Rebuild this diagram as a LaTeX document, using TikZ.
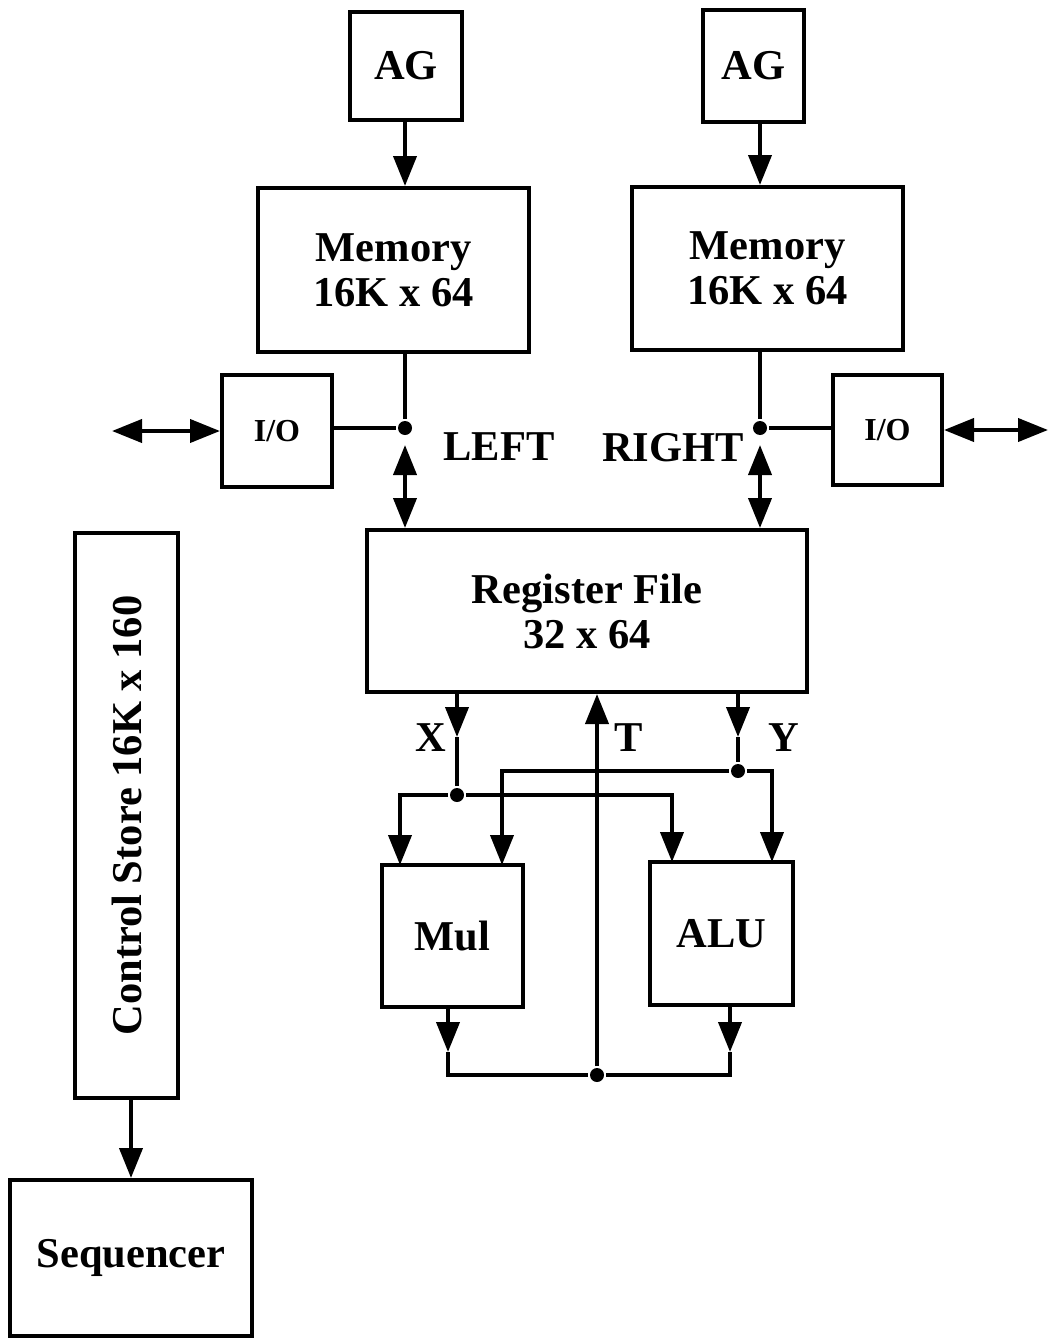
\documentclass[tikz,border=0pt]{standalone}
\usepackage{fontspec}
\setmainfont{Liberation Serif}
\usetikzlibrary{arrows.meta}

\begin{document}
\begin{tikzpicture}[
  x=0.5pt,y=-0.5pt,
  font=\bfseries\fontsize{21.25}{22.5}\selectfont,
  >={Triangle[length=15pt,width=11.5pt]},
  line width=2pt,
  every node/.style={align=center},
  box/.style={draw,line width=2pt,inner sep=0pt},
  small/.style={font=\bfseries\fontsize{16}{18}\selectfont},
  dot/.style={circle,fill,inner sep=0pt,minimum size=7pt},
  lbl/.style={inner sep=0pt},
]
\useasboundingbox (0,0) rectangle (1051,1338);

% --- address generators and memories
\node[box,minimum width=56pt,minimum height=54pt] (ag1) at (406,66) {AG};
\node[box,minimum width=50.5pt,minimum height=56pt] (ag2) at (753.5,66) {AG};
\node[box,minimum width=135.5pt,minimum height=82pt] (mem1) at (393.5,270)
     {Memory\\16K x 64};
\node[box,minimum width=135.5pt,minimum height=81.5pt] (mem2) at (767.5,268.5)
     {Memory\\16K x 64};

% --- I/O ports
\node[box,small,minimum width=55pt,minimum height=56pt] (io1) at (277,431) {I/O};
\node[box,small,minimum width=54.5pt,minimum height=55pt] (io2) at (887.5,430) {I/O};

% --- register file and units
\node[box,minimum width=220pt,minimum height=81pt] (reg) at (587,611)
     {Register File\\32 x 64};
\node[box,minimum width=70.5pt,minimum height=71pt] (mul) at (452.5,936) {Mul};
\node[box,minimum width=71.5pt,minimum height=71.5pt] (alu) at (721.5,933.5) {ALU};

% --- control side
\node[box,minimum width=51.5pt,minimum height=282.5pt] (cs) at (126.5,815.5)
     {\rotatebox{90}{Control Store 16K x 160}};
\node[box,minimum width=121pt,minimum height=78pt] (seq) at (131,1258) {Sequencer};

% --- junctions and free ends
\node[dot] (lj) at (405,428) {};
\node[dot] (rj) at (760,428) {};
\node[dot] (xj) at (457,795) {};
\node[dot] (yj) at (738,771) {};
\node[dot] (tj) at (597,1075) {};
\coordinate (lup)  at (405,445);
\coordinate (rup)  at (760,445);
\coordinate (lout) at (112,431);
\coordinate (rout) at (1048,430);
\coordinate (xa)   at (457,737);
\coordinate (ya)   at (738,737);
\coordinate (mula) at (400,865);
\coordinate (mulb) at (502,865);
\coordinate (alua) at (672,862);
\coordinate (alub) at (772,862);
\coordinate (mulo) at (448,1052);
\coordinate (aluo) at (730,1052);

% --- bus labels
\node[lbl] (left)  at (499,447) {LEFT};
\node[lbl] (right) at (673,448) {RIGHT};
\node[lbl] (xl)    at (431,738) {X};
\node[lbl] (tl)    at (629,738) {T};
\node[lbl] (yl)    at (784,738) {Y};

% --- memory side
\draw[->] (ag1.south -| lj) -- (mem1.north -| lj);
\draw[->] (ag2.south -| rj) -- (mem2.north -| rj);
\draw (mem1.south -| lj) -- (lj);
\draw (mem2.south -| rj) -- (rj);
\draw (io1.east |- lj) -- (lj);
\draw (io2.west |- rj) -- (rj);
\draw[<->] (lout) -- (io1.west);
\draw[<->] (io2.east) -- (rout);
\draw[<->] (lup) -- (reg.north -| lup);
\draw[<->] (rup) -- (reg.north -| rup);

% --- X and Y operands
\draw[->] (reg.south -| xj) -- (xa);
\draw (xa) -- (xj);
\draw[->] (xj) -| (mula);
\draw[->] (xj) -| (alua);
\draw[->] (reg.south -| yj) -- (ya);
\draw (ya) -- (yj);
\draw[->] (yj) -| (mulb);
\draw[->] (yj) -| (alub);

% --- results back on T
\draw[->] (mul.south -| mulo) -- (mulo);
\draw (mulo) |- (tj);
\draw[->] (alu.south -| aluo) -- (aluo);
\draw (aluo) |- (tj);
\draw[->] (tj) -- (reg.south -| tj);

% --- control
\draw[->] (cs.south -| seq.north) -- (seq.north);

\end{tikzpicture}
\end{document}
